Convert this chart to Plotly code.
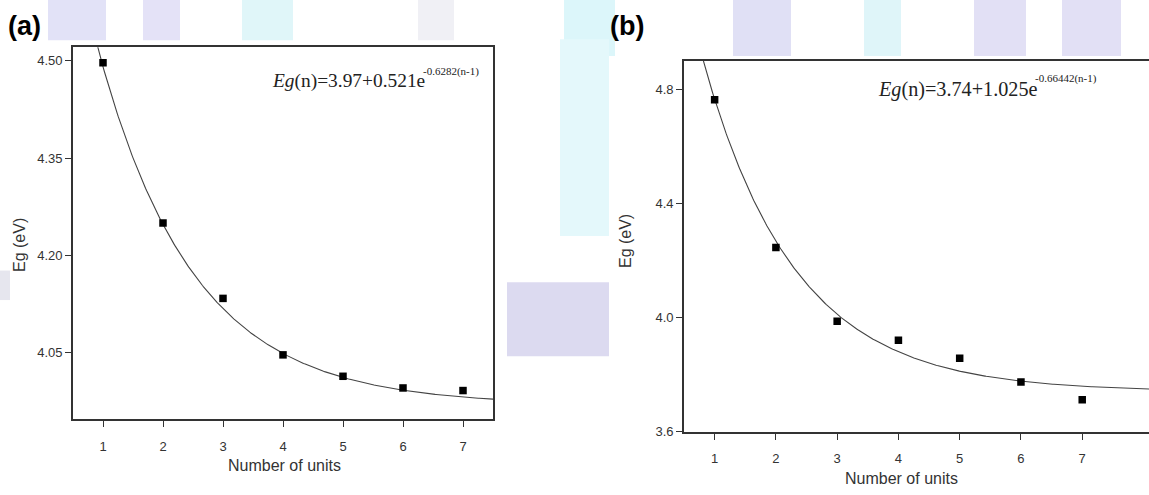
import numpy as np
import plotly.graph_objects as go

W, H = 1149, 495

# ---- data ----
units = [1, 2, 3, 4, 5, 6, 7]
eg_a = [4.497, 4.250, 4.134, 4.047, 4.014, 3.996, 3.992]
eg_b = [4.763, 4.245, 3.987, 3.920, 3.857, 3.774, 3.712]

# fit parameters stated on the chart: Eg(n) = c + a*exp(-k(n-1))
fit_a = [3.97, 0.521, 0.6282]
fit_b = [3.74, 1.025, 0.66442]

yticks_a = [4.05, 4.20, 4.35, 4.50]
yticks_b = [3.6, 4.0, 4.4, 4.8]
xticks = [1, 2, 3, 4, 5, 6, 7]


def fx(x):
    return x / W


def fy(y):
    return 1 - y / H


def fit_curve(p, n):
    return p[0] + p[1] * np.exp(-p[2] * (n - 1))


na = np.linspace(0.5, 7.5, 400)
nb = np.linspace(0.5, 8.1, 400)

fig = go.Figure()

line_style = dict(color="#444444", width=1.1)
marker_style = dict(symbol="square", size=7.5, color="black")

fig.add_trace(go.Scatter(x=na, y=fit_curve(fit_a, na), mode="lines", line=line_style,
                         xaxis="x", yaxis="y", showlegend=False, hoverinfo="skip"))
fig.add_trace(go.Scatter(x=units, y=eg_a, mode="markers", marker=marker_style,
                         xaxis="x", yaxis="y", showlegend=False))
fig.add_trace(go.Scatter(x=nb, y=fit_curve(fit_b, nb), mode="lines", line=line_style,
                         xaxis="x2", yaxis="y2", showlegend=False, hoverinfo="skip"))
fig.add_trace(go.Scatter(x=units, y=eg_b, mode="markers", marker=marker_style,
                         xaxis="x2", yaxis="y2", showlegend=False))

tickfont = dict(family="Liberation Sans, Arial", size=13, color="#333333")
titlefont = dict(family="Liberation Sans, Arial", size=16, color="#333333")
ax_common = dict(showgrid=False, zeroline=False, showline=True, linecolor="#333333",
                 linewidth=1.8, ticks="outside", ticklen=6, tickwidth=1.2,
                 tickcolor="#333333", tickfont=tickfont)

fig.update_layout(
    width=W, height=H,
    margin=dict(l=0, r=0, t=0, b=0),
    paper_bgcolor="white", plot_bgcolor="rgba(0,0,0,0)",
    xaxis=dict(domain=[fx(73), fx(493)], range=[0.5, 7.5], tickvals=xticks,
               mirror=True, anchor="y", ticklabelstandoff=8, **ax_common),
    yaxis=dict(domain=[fy(426), fy(48)], range=[3.948, 4.521], tickvals=yticks_a,
               ticktext=[f"{v:.2f}" for v in yticks_a], mirror=True, anchor="x",
               **ax_common),
    xaxis2=dict(domain=[fx(684), 1.0], range=[0.5, 8.09], tickvals=xticks,
                mirror=True, anchor="y2", ticklabelstandoff=8, **ax_common),
    yaxis2=dict(domain=[fy(438.7), fy(61.7)], range=[3.6, 4.9], tickvals=yticks_b,
                ticktext=[f"{v:.1f}" for v in yticks_b], anchor="x2", **ax_common),
)

# ---- faint watermark in the background (page artefact) ----
shapes = []
stripes = [(48, 106, "#e2e2f7"), (143, 180, "#e4e2f7"), (242, 293, "#e0f6f9"),
           (418, 454, "#f0f0f5"), (564, 615, "#dcf6fa"), (733, 791, "#e0e0f5"),
           (864, 901, "#dff5f9"), (974, 1026, "#e2e0f5"), (1062, 1121, "#e2e0f5")]
for x0, x1, c in stripes:
    shapes.append(dict(type="rect", xref="paper", yref="paper", x0=fx(x0), x1=fx(x1),
                       y0=fy(70), y1=1, fillcolor=c, line_width=0, layer="below"))
# cyan column between panels and purple block
shapes.append(dict(type="rect", xref="paper", yref="paper", x0=fx(560), x1=fx(609),
                   y0=fy(240), y1=fy(40), fillcolor="#e4f8fb", line_width=0, layer="below"))
shapes.append(dict(type="rect", xref="paper", yref="paper", x0=fx(507), x1=fx(609),
                   y0=fy(362), y1=fy(287), fillcolor="#dcdaf0", line_width=0, layer="below"))
shapes.append(dict(type="rect", xref="paper", yref="paper", x0=0, x1=fx(10),
                   y0=fy(305), y1=fy(275), fillcolor="#e6e6ee", line_width=0, layer="below"))
# white areas behind the two panels
shapes.append(dict(type="rect", xref="paper", yref="paper", x0=fx(10), x1=fx(507),
                   y0=0, y1=fy(41), fillcolor="white", line_width=0, layer="below"))
shapes.append(dict(type="rect", xref="paper", yref="paper", x0=fx(609), x1=1,
                   y0=0, y1=fy(57), fillcolor="white", line_width=0, layer="below"))
fig.update_layout(shapes=shapes)

# ---- text ----
serif = "Liberation Serif, Times New Roman"
sans = "Liberation Sans, Arial"
ann = []
ann.append(dict(xref="paper", yref="paper", x=fx(6), y=fy(26), xanchor="left", yanchor="middle",
                text="(a)", showarrow=False,
                font=dict(family=sans, size=27, color="black", weight="bold")))
ann.append(dict(xref="paper", yref="paper", x=fx(608), y=fy(26), xanchor="left", yanchor="middle",
                text="(b)", showarrow=False,
                font=dict(family=sans, size=27, color="black", weight="bold")))
# fit equations: main part + exponent
ann.append(dict(xref="paper", yref="paper", x=fx(270), y=fy(82), xanchor="left", yanchor="middle",
                text=f"<i>Eg</i>(n)={fit_a[0]:.2f}+{fit_a[1]}e",
                showarrow=False, font=dict(family=serif, size=19.4, color="#222222")))
ann.append(dict(xref="paper", yref="paper", x=fx(421), y=fy(73), xanchor="left", yanchor="middle",
                text=f"-{fit_a[2]}(n-1)",
                showarrow=False, font=dict(family=serif, size=11, color="#222222")))
ann.append(dict(xref="paper", yref="paper", x=fx(876), y=fy(91), xanchor="left", yanchor="middle",
                text=f"<i>Eg</i>(n)={fit_b[0]:.2f}+{fit_b[1]}e",
                showarrow=False, font=dict(family=serif, size=20.2, color="#222222")))
ann.append(dict(xref="paper", yref="paper", x=fx(1033), y=fy(80), xanchor="left", yanchor="middle",
                text=f"-{fit_b[2]}(n-1)",
                showarrow=False, font=dict(family=serif, size=11, color="#222222")))
# axis titles
ann.append(dict(xref="paper", yref="paper", x=fx(20), y=fy(249), xanchor="center", yanchor="middle",
                text="Eg (eV)", textangle=-90, showarrow=False, font=titlefont))
ann.append(dict(xref="paper", yref="paper", x=fx(625), y=fy(245), xanchor="center", yanchor="middle",
                text="Eg (eV)", textangle=-90, showarrow=False, font=titlefont))
ann.append(dict(xref="paper", yref="paper", x=fx(284), y=fy(473), xanchor="center", yanchor="middle",
                text="Number of units", showarrow=False, font=titlefont))
ann.append(dict(xref="paper", yref="paper", x=fx(901), y=fy(486), xanchor="center", yanchor="middle",
                text="Number of units", showarrow=False, font=titlefont))
fig.update_layout(annotations=ann)

fig.write_html("out.html", config={"displayModeBar": False},
               post_script="document.body.style.margin='0px';document.body.style.overflow='hidden';")
